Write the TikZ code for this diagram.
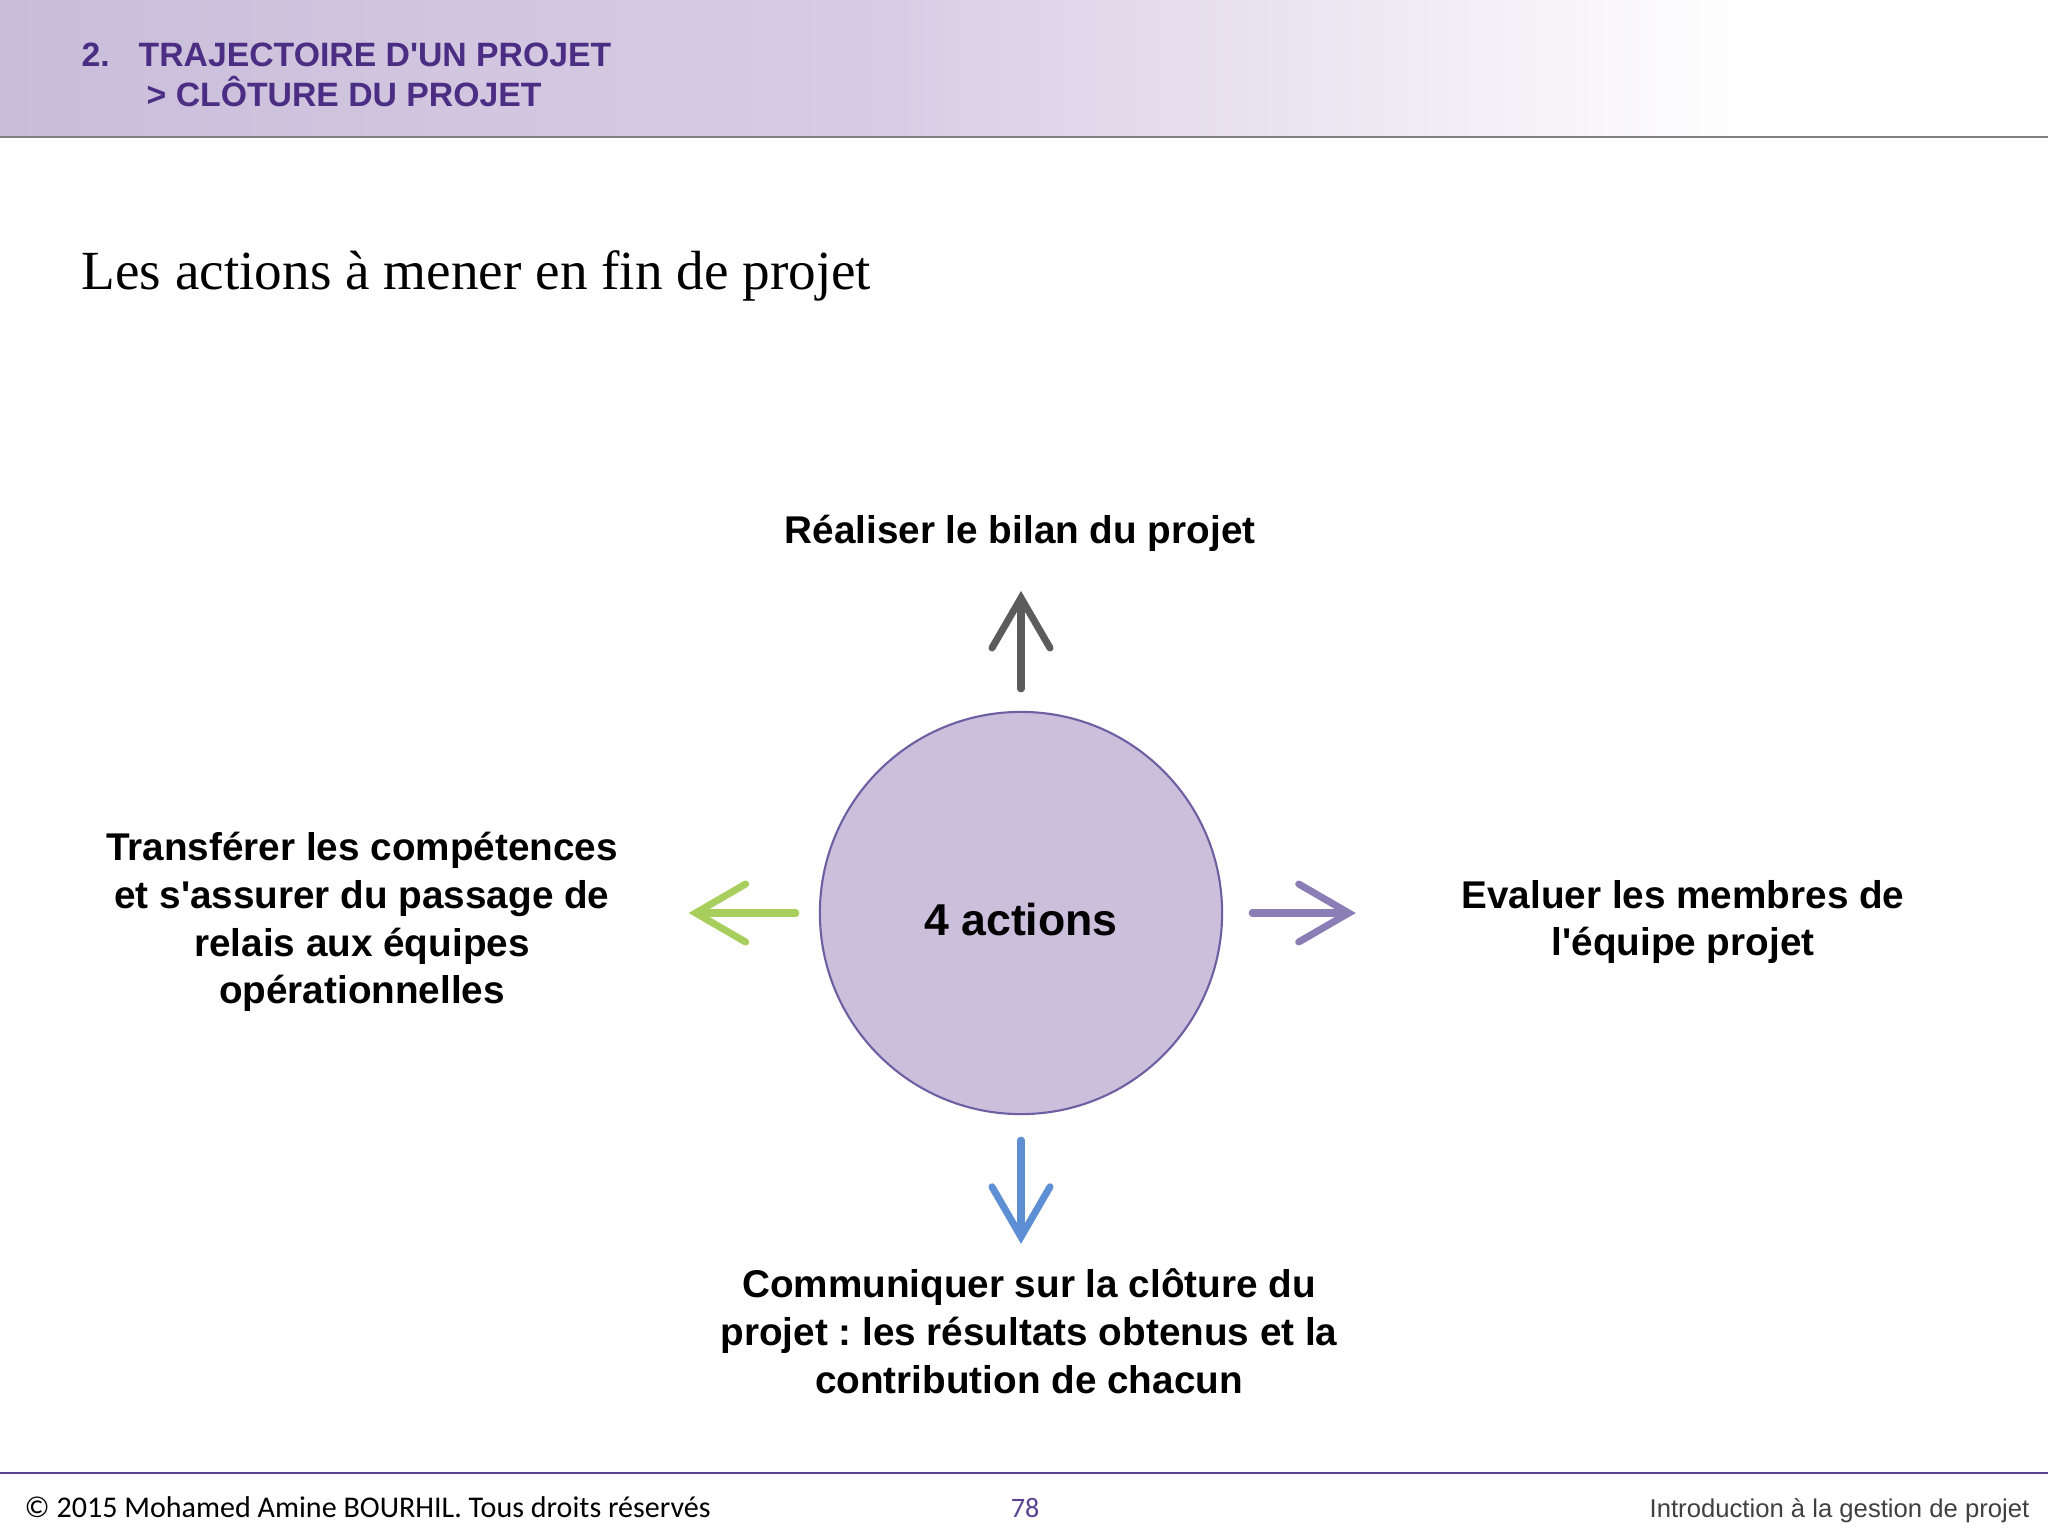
\documentclass[tikz,border=0pt]{standalone}
\usepackage{fontspec}
\setmainfont{Liberation Sans}
\newfontfamily\titlefont{Liberation Serif}
\newfontfamily\footfont{Carlito}
\usetikzlibrary{arrows.meta}
\frenchspacing
\definecolor{headpurple}{HTML}{4B2E83}
\definecolor{bandlav}{HTML}{C9BEDA}
\definecolor{bandmid}{HTML}{D9CDE5}
\definecolor{discfill}{HTML}{CBBFDC}
\definecolor{discline}{HTML}{6E5FA3}
\definecolor{footline}{HTML}{5B4391}
\definecolor{arrowgray}{HTML}{5C5C5C}
\definecolor{arrowpurple}{HTML}{8B7DB5}
\definecolor{arrowgreen}{HTML}{A8CF5E}
\definecolor{arrowblue}{HTML}{5E8FD4}
\tikzset{action/.style={font=\fontsize{11}{13.6}\selectfont\bfseries,align=center,inner sep=0pt},
 hint/.style={draw=#1,line width=2pt,line cap=round,
  -{Straight Barb[length=5mm,width=5.8mm,line cap=round]}},
 headtext/.style={font=\fontsize{9.6}{11.4}\selectfont\bfseries,text=headpurple,anchor=base west,inner sep=0pt},
 foottext/.style={inner sep=0pt,anchor=base west},
 }

\begin{document}
\begin{tikzpicture}[x=0.01cm,y=-0.01cm]
        \useasboundingbox (0,0) rectangle (2048,1536);
        \fill[white] (0,0) rectangle (2048,1536);
        % header band
        \shade[left color=bandlav,right color=bandmid] (0,0) rectangle (900,137);
        \shade[left color=bandmid,right color=white] (900,0) rectangle (1750,137);
        \draw[gray,line width=0.8pt] (0,137) -- (2048,137);
        \node[headtext] (num) at (81,66) {2.};
        \node[headtext] (chapter) at (138,66) {TRAJECTOIRE D\textquotesingle UN PROJET};
        \node[headtext] (section) at (146,106) {> CLÔTURE DU PROJET};
        \node[font=\titlefont\fontsize{15.7}{18}\selectfont,anchor=base west,inner sep=0pt] (title) at (81,289) {Les actions à mener en fin de projet};
        % disc and the four actions
        \node[circle,fill=discfill,draw=discline,line width=0.6pt,minimum size=4.02cm,inner sep=0pt,
            font=\fontsize{12.7}{15}\selectfont\bfseries] (core) at (1021,913) {\raisebox{-0.22cm}[0pt][0pt]{4 actions}};
        \node[action] (bilan) at (1020,533) {Réaliser le bilan du projet};
        \node[action] (evaluer) at (1683,922) {Evaluer les membres de\\l\textquotesingle équipe projet};
        \node[action] (transferer) at (362,922) {Transférer les compétences\\et s\textquotesingle assurer du passage de\\relais aux équipes\\opérationnelles};
        \node[action] (communiquer) at (1029,1331) {Communiquer sur la clôture du\\projet : les résultats obtenus et la\\contribution de chacun};
        \draw[hint=arrowgray,shorten <=0.22cm,shorten >=0.39cm] (core.north) -- (core.north |- bilan.south);
        \draw[hint=arrowpurple,shorten <=0.29cm,shorten >=1.05cm] (core.east) -- (core.east -| evaluer.west);
        \draw[hint=arrowgreen,shorten <=0.23cm,shorten >=0.70cm] (core.west) -- (core.west -| transferer.east);
        \draw[hint=arrowblue,shorten <=0.25cm,shorten >=0.24cm] (core.south) -- (core.south |- communiquer.north);
        % footer
        \draw[footline,line width=0.75pt] (0,1473) -- (2048,1473);
        \node[foottext,font=\footfont\fontsize{8.55}{10}\selectfont] (copyright) at (24,1517) {© 2015 Mohamed Amine BOURHIL. Tous droits réservés};
        \node[inner sep=0pt,anchor=base,font=\footfont\fontsize{8}{10}\selectfont,text=footline] (page) at (1025,1517) {78};
        \node[inner sep=0pt,anchor=base east,font=\fontsize{7.3}{9}\selectfont,text=darkgray] (course) at (2030,1517) {Introduction à la gestion de projet};
    \end{tikzpicture}
\end{document}
